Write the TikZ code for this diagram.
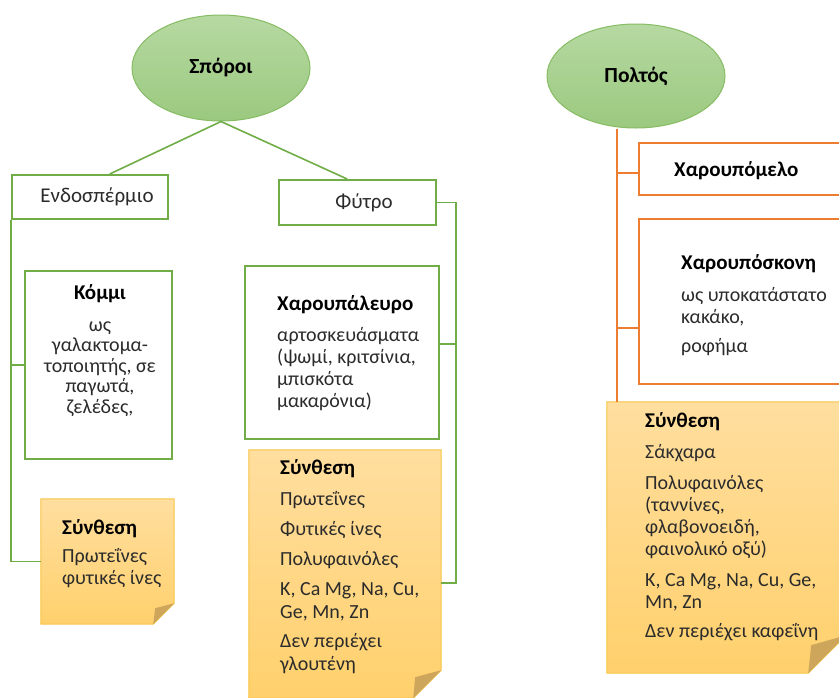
\documentclass[tikz,border=0pt]{standalone}
\usepackage{fontspec}
\setmainfont{Carlito}
\usetikzlibrary{calc,shapes.geometric}
\definecolor{grn}{HTML}{70AD47}
\definecolor{org}{HTML}{ED7D31}
\definecolor{elltop}{HTML}{B6D9A2}
\definecolor{ellbot}{HTML}{9BC97F}
\definecolor{ellbd}{HTML}{86BC63}
\definecolor{notetop}{HTML}{FFDE9F}
\definecolor{notebot}{HTML}{FFD06C}
\definecolor{notebd}{HTML}{F7C544}
\definecolor{foldc}{HTML}{CDA65C}
\definecolor{txt}{HTML}{2B2B2B}
\newcommand{\topstrut}{\rule{0pt}{17pt}}
\newcommand{\hdtext}[1]{\textcolor{black}{\fontsize{21}{22}\selectfont\bfseries #1}}
\begin{document}
\begin{tikzpicture}[x=1pt,y=-1pt,
  gbox/.style={draw=grn, line width=2pt, fill=white, inner sep=0pt},
  obox/.style={draw=org, line width=2pt, fill=white, inner sep=0pt},
  gline/.style={draw=grn, line width=1.6pt},
  oline/.style={draw=org, line width=2pt},
  ell/.style={ellipse, draw=ellbd, line width=1pt, top color=elltop, bottom color=ellbot,
    inner sep=0pt, minimum width=178pt, font=\fontsize{21.5}{24}\selectfont\bfseries},
  notearea/.style={inner sep=0pt},
  notefill/.style={top color=notetop, bottom color=notebot, draw=notebd, line width=1pt},
  body/.style={inner sep=0pt, text=txt, font=\fontsize{20}{22}\selectfont},
  block/.style={body, anchor=north west, align=left},
  hd/.style={inner sep=0pt, text=black, font=\fontsize{21}{22}\selectfont\bfseries}
]
\useasboundingbox (0,0) rectangle (839,697);
\clip (0,0) rectangle (839,697);

% ellipses
\node[ell, minimum height=106pt] (sporoi) at (221,68) {Σπόροι};
\node[ell, minimum height=104pt] (poltos) at (636,76) {Πολτός};

% boxes
\node[gbox, minimum width=156pt, minimum height=44pt] (endo) at (90,197) {};
\node[gbox, minimum width=157pt, minimum height=45pt] (fytro) at (357.5,202.5) {};
\node[gbox, minimum width=147pt, minimum height=188pt] (kommi) at (98.5,365) {};
\node[gbox, minimum width=194pt, minimum height=173pt] (charoup) at (342,352.5) {};
\node[obox, minimum width=211pt, minimum height=52pt] (meli) at (744.5,169) {};
\node[obox, minimum width=211pt, minimum height=165pt] (skoni) at (744.5,301.5) {};

% note areas
\node[notearea, minimum width=133pt, minimum height=125pt] (n1) at (107.5,561.5) {};
\node[notearea, minimum width=192pt, minimum height=248pt] (n2) at (345,574) {};
\node[notearea, minimum width=239pt, minimum height=271pt] (n3) at (726.5,537.5) {};

% note shapes
\path[notefill] (n1.north west) -- (n1.north east) -- ($(n1.south east)+(0,-21)$) -- ($(n1.south east)+(-21,0)$) -- (n1.south west) -- cycle;
\fill[foldc] ($(n1.south east)+(0,-21)$) -- ($(n1.south east)+(-21,0)$) -- ($(n1.south east)+(-19,-16)$) -- cycle;
\path[notefill] (n2.north west) -- (n2.north east) -- ($(n2.south east)+(0,-28)$) -- ($(n2.south east)+(-28,0)$) -- (n2.south west) -- cycle;
\fill[foldc] ($(n2.south east)+(0,-28)$) -- ($(n2.south east)+(-28,0)$) -- ($(n2.south east)+(-26,-21)$) -- cycle;
\path[notefill] (n3.north west) -- (n3.north east) -- ($(n3.south east)+(0,-38)$) -- ($(n3.south east)+(-38,0)$) -- (n3.south west) -- cycle;
\fill[foldc] ($(n3.south east)+(0,-38)$) -- ($(n3.south east)+(-38,0)$) -- ($(n3.south east)+(-35,-28)$) -- cycle;

% connectors left tree
\draw[gline] (sporoi.south) -- ($(endo.north)!0.25!(endo.north east)$);
\draw[gline] (sporoi.south) -- ($(fytro.north west)!0.87!(fytro.north)$);
\draw[gline] (endo.south west) |- (n1.west);
\draw[gline] (endo.south west |- kommi.west) -- (kommi.west);
\coordinate (fmid) at (456,344);
\coordinate (fbot) at (456,583);
\draw[gline] (fytro.east) -| (fbot) -- (fbot -| n2.east);
\draw[gline] (fmid) -- (fmid -| charoup.east);

% connectors right tree
\coordinate (pbot) at (617,402);
\coordinate (pmid) at (617,328);
\coordinate (ptop) at (617,173);
\draw[oline] (pbot |- poltos.south) -- (pbot);
\draw[oline] (ptop) -- (ptop -| meli.west);
\draw[oline] (pmid) -- (pmid -| skoni.west);

% texts
\node[body, font=\fontsize{21}{22}\selectfont] (endoT) at (97,197) {Ενδοσπέρμιο};
\node[body, font=\fontsize{21}{22}\selectfont] (fytroT) at (364,203) {Φύτρο};
\node[hd, anchor=west] (meliT) at (674,171) {Χαρουπόμελο};

\node[body, anchor=north, align=center, font=\fontsize{20}{20.5}\selectfont] (kommiT) at (100,282)
  {\topstrut\hdtext{Κόμμι}\\[11.5pt]
   ως\\ γαλακτομα-\\ τοποιητής, σε\\ παγωτά,\\ ζελέδες,};

\node[block] (charoupT) at (277,293)
  {\topstrut\hdtext{Χαρουπάλευρο}\\[9pt]
   αρτοσκευάσματα\\ (ψωμί, κριτσίνια,\\ μπισκότα\\ μακαρόνια)};

\node[block] (skoniT) at (681,252)
  {\topstrut\hdtext{Χαρουπόσκονη}\\[10pt]
   ως υποκατάστατο\\ κακάκο,\\[7pt] ροφήμα};

\node[block] (n1T) at (62,517)
  {\topstrut\hdtext{Σύνθεση}\\[6pt]
   Πρωτεΐνες\\ φυτικές ίνες};

\node[block, font=\fontsize{20}{23}\selectfont] (n2T) at (280,457)
  {\topstrut\hdtext{Σύνθεση}\\[8pt]
   Πρωτεΐνες\\[7pt] Φυτικές ίνες\\[7pt] Πολυφαινόλες\\[7pt]
   K, Ca Mg, Na, Cu,\\ Ge, Mn, Zn\\[6pt] Δεν περιέχει\\ γλουτένη};

\node[block] (n3T) at (645,410)
  {\topstrut\hdtext{Σύνθεση}\\[9pt]
   Σάκχαρα\\[9pt] Πολυφαινόλες\\ (ταννίνες,\\ φλαβονοειδή,\\ φαινολικό οξύ)\\[9pt]
   K, Ca Mg, Na, Cu, Ge,\\ Mn, Zn\\[7pt] Δεν περιέχει καφεΐνη};
\end{tikzpicture}
\end{document}
